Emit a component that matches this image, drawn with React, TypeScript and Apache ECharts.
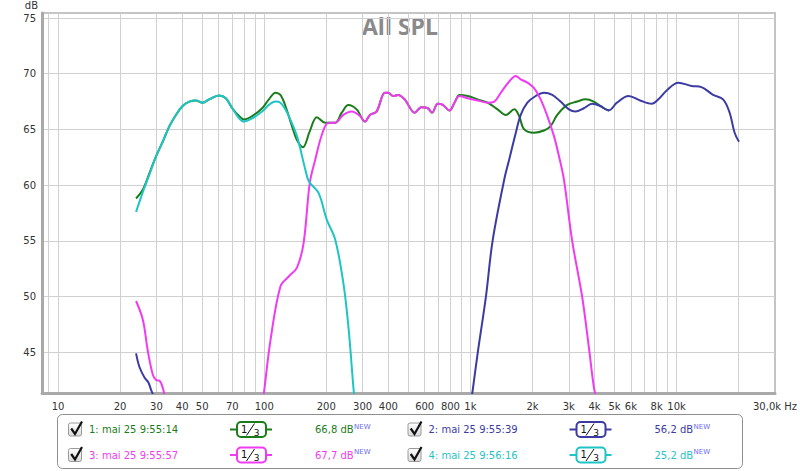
import React, { useEffect, useRef } from "react";
import * as echarts from "echarts";

const FONT = '"DejaVu Sans", sans-serif';

// x axis: grid line frequencies and labelled frequencies (Hz)
const gridFreqs = [9, 10, 20, 30, 40, 50, 60, 70, 80, 90, 100, 200, 300, 400, 500, 600, 700, 800, 900, 1000, 2000, 3000, 4000, 5000, 6000, 7000, 8000, 9000, 10000, 20000];
const labelFreqs = [10, 20, 30, 40, 50, 70, 100, 200, 300, 400, 600, 800, 1000, 2000, 3000, 4000, 5000, 6000, 8000, 10000, 30000];
const labelTexts = ["10", "20", "30", "40", "50", "70", "100", "200", "300", "400", "600", "800", "1k", "2k", "3k", "4k", "5k", "6k", "8k", "10k", "30,0k Hz"];
const dbTicks = [45, 50, 55, 60, 65, 70, 75];

// legend
const legendNames = ["1: mai 25 9:55:14", "2: mai 25 9:55:39", "3: mai 25 9:55:57", "4: mai 25 9:56:16"];
const legendValues = ["66,8 dB", "56,2 dB", "67,7 dB", "25,2 dB"];
const colors = ["#1c7c1c", "#3b3ba3", "#f03cf0", "#1fc4c4"];

// [frequency Hz, dB]
const m1: number[][] = [
  [23.9, 58.8], [25.8, 59.6], [27.8, 61.1], [29.9, 62.6], [32.2, 63.9], [34.7, 65.3], [37.3, 66.3], [40.2, 67.1],
  [43.3, 67.5], [46.6, 67.6], [50.2, 67.4], [54.1, 67.7], [60.4, 68.05], [65.1, 67.8], [70, 66.9], [75.5, 66.2],
  [79.7, 65.9], [87.4, 66.2], [97.7, 66.9], [105.3, 67.7], [113.4, 68.3], [119.8, 68.1], [126.7, 67.1], [136.3, 65.3],
  [143.7, 64.1], [154.1, 63.4], [166, 64.8], [180, 66.1], [197.6, 65.6], [220.8, 65.6], [237.6, 66.5], [256, 67.2],
  [280.7, 66.8], [308, 65.7], [325.7, 66.3], [350.5, 66.6], [384.8, 68.3], [399, 68.3], [421.9, 68.0], [446, 68.1],
  [480, 67.7], [537, 66.5], [578, 67.0], [622, 66.9], [651, 66.5], [695, 67.3], [735, 67.2], [792, 66.7],
  [837, 67.4], [885, 68.1], [970, 68.0], [1084, 67.7], [1211, 67.4], [1354, 66.8], [1485, 66.3], [1631, 66.8],
  [1723, 66.2], [1822, 65.0], [2036, 64.7], [2275, 64.9], [2448, 65.3], [2637, 66.3], [2946, 67.2], [3293, 67.5],
  [3612, 67.7], [3965, 67.5], [4431, 66.9], [4699, 66.7],
];

const m2Low: number[][] = [[23.9, 44.9], [24.8, 43.7], [26.3, 42.7], [27.4, 42.3], [28.3, 41.6], [29.2, 41.0]];
const m2: number[][] = [
  [1014, 41.0], [1026, 41.6], [1084, 44.9], [1189, 50.0], [1281, 55.0], [1459, 60.5], [1542, 62.3], [1660, 64.7],
  [1754, 66.3], [1889, 67.4], [2073, 68.0], [2275, 68.3], [2495, 68.1], [2735, 67.5], [3004, 66.8], [3231, 66.6],
  [3548, 66.9], [3890, 67.3], [4266, 67.1], [4683, 66.7], [5135, 67.4], [5848, 68.0], [6655, 67.6], [7575, 67.3],
  [8159, 67.7], [8947, 68.5], [10190, 69.2], [11813, 68.9], [13200, 68.8], [15030, 68.1], [16800, 67.7], [18080, 66.5],
  [19110, 64.7], [20070, 63.9],
];

const m3Low: number[][] = [[23.9, 49.6], [25.8, 47.9], [27.2, 45.2], [28.8, 43.0], [29.9, 42.5], [31.2, 42.4], [32.2, 41.8], [32.8, 41.2], [33.2, 40.8]];
const m3: number[][] = [
  [98.8, 40.8], [99.6, 41.3], [107.3, 46.1], [119.8, 50.9], [131.5, 51.8], [144.1, 52.6], [155.2, 54.8], [166.3, 60.2],
  [176.8, 62.3], [190.2, 64.5], [205, 65.6], [220.8, 65.6], [242, 66.3], [265.5, 66.6], [291.5, 66.2], [308, 65.7],
  [325.7, 66.3], [350.5, 66.6], [384.8, 68.3], [399, 68.3], [421.9, 68.0], [446, 68.1], [480, 67.7], [537, 66.5],
  [578, 67.0], [622, 66.9], [651, 66.5], [695, 67.3], [735, 67.2], [792, 66.7], [837, 67.4], [885, 68.0],
  [970, 67.8], [1084, 67.6], [1211, 67.4], [1306, 67.5], [1405, 68.3], [1542, 69.3], [1660, 69.8], [1754, 69.5],
  [1889, 69.2], [2036, 68.7], [2191, 67.7], [2360, 66.2], [2542, 64.4], [2688, 62.6], [2841, 60.5], [3115, 55.0],
  [3481, 50.0], [3750, 45.5], [3965, 41.9], [4065, 41.0],
];

const m4: number[][] = [
  [23.9, 57.6], [25.8, 59.4], [27.8, 61.0], [29.9, 62.6], [32.2, 63.9], [34.7, 65.3], [37.3, 66.3], [40.2, 67.1],
  [43.3, 67.5], [46.6, 67.6], [50.2, 67.4], [54.1, 67.7], [60.4, 68.05], [65.1, 67.8], [70, 66.9], [75.5, 66.0],
  [79.7, 65.7], [87.4, 66.0], [97.7, 66.6], [105.3, 67.2], [113.4, 67.5], [119.8, 67.4], [126.7, 66.8], [131.5, 66.2],
  [144.1, 64.4], [158.2, 61.4], [165, 60.3], [183.4, 59.3], [201, 56.9], [221, 55.1], [242, 51.2], [256, 47.3],
  [270.5, 41.9], [273.5, 41.0],
];

function lineSeries(data: number[][], color: string) {
  return {
    type: "line",
    data,
    showSymbol: false,
    symbol: "none",
    smooth: 0.35,
    clip: true,
    lineStyle: { color, width: 2 },
    emphasis: { disabled: true },
  };
}

function buildLegend(): any[] {
  const els: any[] = [];
  els.push({
    type: "rect",
    shape: { x: 57.5, y: 414.5, width: 685, height: 54, r: 5 },
    style: { fill: "#fff", stroke: "#8e8e8e", lineWidth: 1 },
  });
  legendNames.forEach((name, i) => {
    const col = i % 2;
    const row = Math.floor(i / 2);
    const dx = col * 339.5;
    const y = 429.5 + row * 25.5;
    const c = colors[i];
    els.push({
      type: "rect",
      shape: { x: 68.5 + dx, y: y - 6.5, width: 13, height: 13, r: 2 },
      style: {
        fill: new echarts.graphic.LinearGradient(0, 0, 0, 1, [
          { offset: 0, color: "#ffffff" },
          { offset: 1, color: "#d9d9d9" },
        ]),
        stroke: "#9a9a9a",
        lineWidth: 1,
      },
    });
    els.push({
      type: "polyline",
      shape: { points: [[71.2 + dx, y - 1], [75 + dx, y + 4.5], [82 + dx, y - 8]] },
      style: { stroke: "#111", lineWidth: 2.2, fill: null },
    });
    els.push({
      type: "text",
      x: 89 + dx,
      y,
      style: { text: name, fill: c, fontSize: 10, fontFamily: FONT, align: "left", verticalAlign: "middle", textAlign: "left", textVerticalAlign: "middle" },
    });
    // smoothing badge
    els.push({ type: "line", shape: { x1: 230 + dx, y1: y, x2: 237 + dx, y2: y }, style: { stroke: c, lineWidth: 2 } });
    els.push({ type: "line", shape: { x1: 266 + dx, y1: y, x2: 272 + dx, y2: y }, style: { stroke: c, lineWidth: 2 } });
    els.push({
      type: "rect",
      shape: { x: 237 + dx, y: y - 7.5, width: 29, height: 15, r: 4 },
      style: { fill: "#fff", stroke: c, lineWidth: 2 },
    });
    els.push({
      type: "text",
      x: 244.3 + dx,
      y: y - 0.5,
      style: { text: "1", fill: "#111", fontSize: 10, fontFamily: FONT, align: "center", verticalAlign: "middle", textAlign: "center", textVerticalAlign: "middle" },
    });
    els.push({ type: "line", shape: { x1: 246.5 + dx, y1: y + 6, x2: 254.5 + dx, y2: y - 6 }, style: { stroke: "#111", lineWidth: 1 } });
    els.push({
      type: "text",
      x: 256.5 + dx,
      y: y + 3,
      style: { text: "3", fill: "#111", fontSize: 9, fontFamily: FONT, align: "center", verticalAlign: "middle", textAlign: "center", textVerticalAlign: "middle" },
    });
    els.push({
      type: "text",
      x: 315 + dx,
      y,
      style: { text: legendValues[i], fill: c, fontSize: 10, fontFamily: FONT, align: "left", verticalAlign: "middle", textAlign: "left", textVerticalAlign: "middle" },
    });
    els.push({
      type: "text",
      x: 354 + dx,
      y: y - 3,
      style: { text: "NEW", fill: "#6c6cf0", fontSize: 7, fontFamily: FONT, align: "left", verticalAlign: "middle", textAlign: "left", textVerticalAlign: "middle" },
    });
  });
  return els;
}

export default function App() {
  const ref = useRef<HTMLDivElement>(null);
  useEffect(() => {
    if (!ref.current) return;
    const chart = echarts.init(ref.current, undefined, { renderer: "svg" });
    const labelMap: Record<number, string> = {};
    labelFreqs.forEach((f, i) => (labelMap[f] = labelTexts[i]));
    const option: any = {
      animation: false,
      backgroundColor: "#ffffff",
      grid: { left: 42, right: 22, top: 13, bottom: 78, show: true, borderColor: "#c4c4c4", borderWidth: 2, backgroundColor: "transparent" },
      xAxis: {
        type: "log",
        logBase: 10,
        min: 8.36,
        max: 30000,
        axisLine: { show: true, onZero: false, lineStyle: { color: "#a9a9a9", width: 3 } },
        axisTick: { show: false, customValues: gridFreqs },
        axisLabel: {
          customValues: labelFreqs,
          margin: 8,
          color: "#333",
          fontSize: 10,
          fontFamily: FONT,
          formatter: (v: number) => labelMap[Math.round(v)] ?? "",
        },
        splitLine: { show: true, lineStyle: { color: "#d0d0d0", width: 1 } },
        minorSplitLine: { show: false },
      },
      yAxis: {
        type: "value",
        min: 41.34,
        max: 75.45,
        name: "dB",
        nameLocation: "end",
        nameGap: 3,
        nameTextStyle: { align: "right", verticalAlign: "bottom", padding: [0, 4, 0, 0], color: "#333", fontSize: 10, fontFamily: FONT },
        axisLine: { show: true, lineStyle: { color: "#a9a9a9", width: 3 } },
        axisTick: { show: false, customValues: dbTicks },
        axisLabel: { customValues: dbTicks, margin: 6, color: "#333", fontSize: 10, fontFamily: FONT },
        splitLine: { show: true, lineStyle: { color: "#d0d0d0", width: 1 } },
      },
      series: [
        lineSeries(m1, colors[0]),
        lineSeries(m2Low, colors[1]),
        lineSeries(m2, colors[1]),
        lineSeries(m3Low, colors[2]),
        lineSeries(m3, colors[2]),
        lineSeries(m4, colors[3]),
      ],
      graphic: [
        {
          type: "text",
          x: 400,
          y: 25.5,
          style: { text: "All SPL", fill: "#8a8a8a", fontSize: 23, fontWeight: "bold", fontFamily: '"Open Sans", sans-serif', align: "center", verticalAlign: "middle", textAlign: "center", textVerticalAlign: "middle" },
        },
        ...buildLegend(),
      ],
    };
    chart.setOption(option);
    return () => chart.dispose();
  }, []);
  return <div ref={ref} style={{ position: "absolute", left: 0, top: 0, width: 800, height: 471 }} />;
}
